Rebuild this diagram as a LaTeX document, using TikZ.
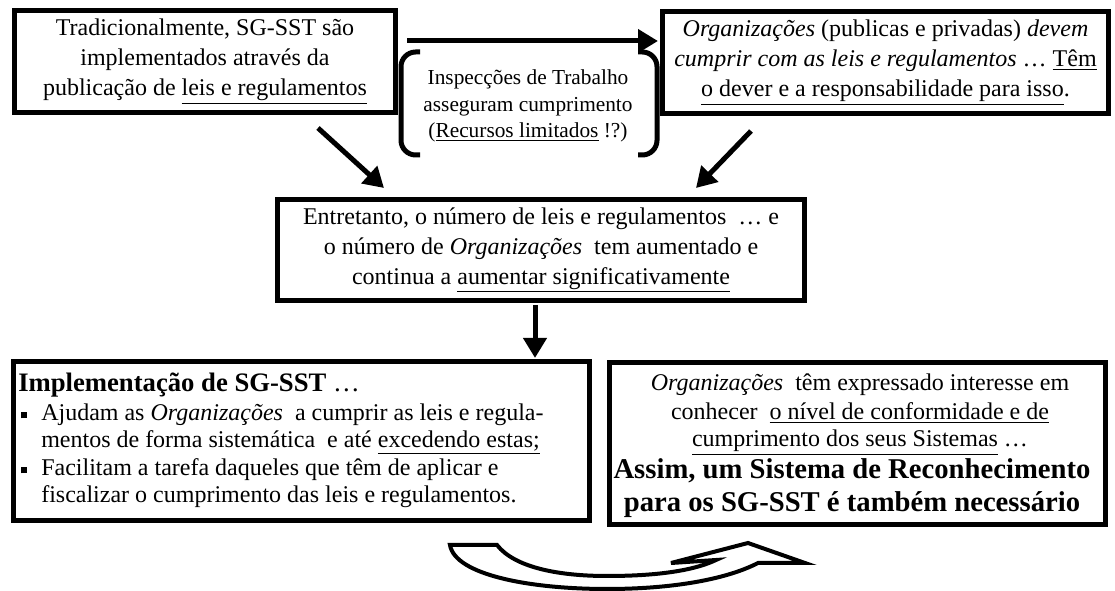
\documentclass[tikz,border=0pt]{standalone}
\usepackage{fontspec}
\setmainfont{Liberation Serif}
\usetikzlibrary{arrows.meta}
\newcommand\bulsq{\makebox[16.5pt][l]{\hspace{1.5pt}\rule[2pt]{4.5pt}{4.5pt}}}
\tikzset{
  box/.style={draw, line width=3.75pt, inner sep=0pt, align=center, font=\fontsize{18}{22.5}\selectfont},
  frame/.style={draw, line width=3.75pt, inner sep=0pt},
  arr/.style={line width=3.75pt, -{Triangle[length=15pt,width=17pt]}},
  brk/.style={line width=3.75pt, rounded corners=11pt},
  txt/.style={inner sep=0pt, font=\fontsize{18}{22}\selectfont},
  btxt/.style={inner sep=0pt, font=\fontsize{21.5}{25}\selectfont\bfseries},
  small/.style={inner sep=0pt, align=center, font=\fontsize{16}{20}\selectfont},
}
\begin{document}
\begin{tikzpicture}[x=0.75pt,y=-0.75pt]
\useasboundingbox (0,0) rectangle (1115,591);

% top boxes
\node[box, minimum width=285.75pt, minimum height=76.5pt] (b1) at (205,61.5)
  {Tradicionalmente, SG-SST são\\implementados através da\\publicação de \underline{leis e regulamentos}};
\node[box, minimum width=334.5pt, minimum height=76.5pt] (b2) at (885.5,62.5)
  {\textit{Organizações} (publicas e privadas) \textit{devem}\\\textit{cumprir com as leis e regulamentos} … \underline{Têm}\\\underline{o dever e a responsabilidade para isso}.};

% inspection bracket
\node[small] (insp) at (528,106)
  {Inspecções de Trabalho\\asseguram cumprimento\\(\underline{Recursos limitados} !?)};
\draw[brk] (420,52) -- (401,52) -- (401,155) -- (420,155);
\draw[brk] (638,52) -- (657,52) -- (657,155) -- (638,155);

% top arrow
\coordinate (t1) at (407,41);
\coordinate (t2) at (658,41);
\draw[arr] (t1) -- (t2);

% middle box
\node[box, minimum width=395.25pt, minimum height=75.75pt] (mid) at (541,250)
  {Entretanto, o número de leis e regulamentos\ \ … e\\o número de \textit{Organizações}\ \ tem aumentado e\\continua a \underline{aumentar significativamente}};

\coordinate (d1s) at (318,128);
\coordinate (d1e) at (384,188);
\coordinate (d2s) at (751,131);
\coordinate (d2e) at (696,188);
\draw[arr] (d1s) -- (d1e);
\draw[arr] (d2s) -- (d2e);

\coordinate (d3s) at (535,305);
\coordinate (d3e) at (535,358);
\draw[arr] (d3s) -- (d3e);

% bottom-left box
\node[frame, minimum width=432pt, minimum height=119.25pt] (bl) at (301.5,441) {};
\node[txt, anchor=base west, font=\fontsize{20}{24}\selectfont\bfseries] (bl1) at (18,392) {Implementação de SG-SST \mdseries …};
\node[txt, anchor=base west] (bl2) at (19,421) {\bulsq Ajudam as \textit{Organizações}\ \ a cumprir as leis e regula-};
\node[txt, anchor=base west] (bl3) at (19,448) {\hspace*{16.5pt}mentos de forma sistemática\ \ e até \underline{excedendo estas;}};
\node[txt, anchor=base west] (bl4) at (19,476) {\bulsq Facilitam a tarefa daqueles que têm de aplicar e};
\node[txt, anchor=base west] (bl5) at (19,503) {\hspace*{16.5pt}fiscalizar o cumprimento das leis e regulamentos.};

% bottom-right box
\node[frame, minimum width=372pt, minimum height=121.5pt] (br) at (857.5,443.5) {};
\node[txt, anchor=base] (br1) at (860,391) {\textit{Organizações}\ \ têm expressado interesse em};
\node[txt, anchor=base] (br2) at (860,420) {conhecer\ \ \underline{o nível de conformidade e de}};
\node[txt, anchor=base] (br3) at (860,447) {\underline{cumprimento dos seus Sistemas} …};
\node[btxt, anchor=base] (br4) at (852,479) {Assim, um Sistema de Reconhecimento};
\node[btxt, anchor=base] (br5) at (852,512) {para os SG-SST é também necessário};

% curved outline arrow
\draw[line width=3pt, fill=white, line join=miter]
  (450,545) -- (497,545)
  .. controls (515,568) and (560,576) .. (607,576)
  .. controls (660,576) and (695,570) .. (716,560)
  -- (671,563) -- (748,543) -- (805,563) -- (758,563)
  .. controls (725,580) and (670,589) .. (607,589)
  .. controls (530,589) and (455,575) .. (450,545) -- cycle;
\end{tikzpicture}
\end{document}
